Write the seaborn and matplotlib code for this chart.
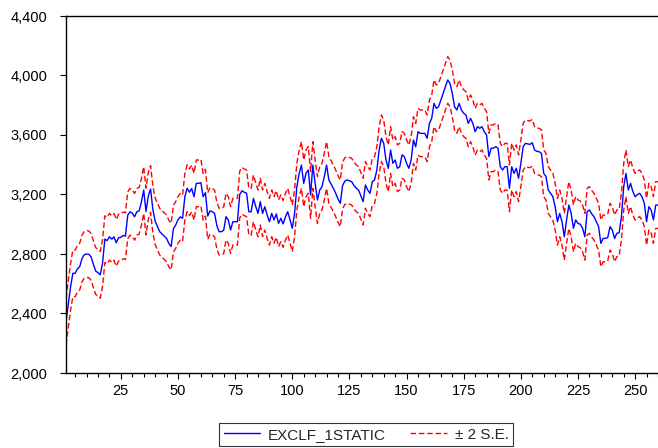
import numpy as np
import pandas as pd
import seaborn as sns
import matplotlib
matplotlib.use("Agg")
import matplotlib.pyplot as plt
from matplotlib.ticker import MultipleLocator, FuncFormatter

# Static forecast of EXCLF_1, observations 1..260
forecast = [
    2345, 2460, 2580, 2670, 2670, 2700, 2715, 2770, 2795, 2800,
    2798, 2780, 2730, 2685, 2675, 2660, 2740, 2900, 2890, 2916,
    2900, 2915, 2875, 2910, 2912, 2925, 2920, 3060, 3084, 3075,
    3050, 3084, 3090, 3150, 3230, 3085, 3190, 3237, 3100, 3020,
    2985, 2950, 2935, 2920, 2905, 2870, 2850, 2970, 2995, 3030,
    3050, 3040, 3185, 3242, 3215, 3240, 3185, 3275, 3275, 3280,
    3185, 3212, 3055, 3090, 3084, 3073, 2990, 2950, 2950, 2960,
    3051, 3029, 2961, 3017, 3017, 3017, 3200, 3225, 3215, 3208,
    3084, 3084, 3174, 3120, 3073, 3152, 3073, 3118, 3062, 3017,
    3073, 3029, 3069, 3006, 3040, 3002, 3050, 3084, 3030, 2973,
    3073, 3253, 3340, 3398, 3275, 3342, 3365, 3197, 3398, 3275,
    3163, 3230, 3253, 3320, 3398, 3298, 3270, 3240, 3208, 3170,
    3141, 3260, 3290, 3298, 3292, 3286, 3260, 3242, 3230, 3190,
    3152, 3264, 3230, 3208, 3286, 3298, 3365, 3499, 3578, 3544,
    3432, 3376, 3499, 3410, 3432, 3376, 3387, 3466, 3455, 3410,
    3376, 3432, 3566, 3521, 3622, 3611, 3611, 3611, 3578, 3678,
    3712, 3813, 3779, 3790, 3835, 3880, 3925, 3970, 3947, 3880,
    3790, 3768, 3813, 3768, 3746, 3734, 3678, 3712, 3678, 3622,
    3656, 3645, 3656, 3622, 3600, 3455, 3511, 3511, 3522, 3511,
    3387, 3365, 3387, 3387, 3242, 3387, 3342, 3376, 3309, 3410,
    3521, 3544, 3540, 3537, 3548, 3499, 3490, 3488, 3477, 3342,
    3320, 3230, 3208, 3185, 3118, 3017, 3073, 3017, 2916, 3029,
    3129, 3073, 2973, 3029, 3006, 3000, 2973, 2916, 3084, 3096,
    3070, 3051, 3017, 2984, 2872, 2905, 2905, 2910, 2984, 2961,
    2905, 2939, 2943, 3051, 3253, 3342, 3230, 3275, 3219, 3185,
    3200, 3208, 3185, 3141, 3017, 3118, 3096, 3029, 3129, 3129,
]
two_se = 157  # width of the +/- 2 S.E. band

obs = np.arange(1, len(forecast) + 1)
y_ticks = [2000, 2400, 2800, 3200, 3600, 4000, 4400]
x_ticks = [25, 50, 75, 100, 125, 150, 175, 200, 225, 250]

df = pd.DataFrame({"obs": obs, "forecast": forecast})
df["upper"] = df["forecast"] + two_se
df["lower"] = df["forecast"] - two_se

sns.set_style("white")
plt.rcParams["font.family"] = ["Liberation Sans", "DejaVu Sans"]

fig = plt.figure(figsize=(6.58, 4.48), dpi=100)
ax = fig.add_axes([66 / 658, 1 - 373 / 448, 1 - 66 / 658, (373 - 16) / 448])

sns.lineplot(data=df, x="obs", y="forecast", ax=ax, color="#0000ff",
             linewidth=1.0, label="EXCLF_1STATIC")
sns.lineplot(data=df, x="obs", y="upper", ax=ax, color="#ff0000",
             linewidth=1.0, linestyle=(0, (4, 2)), label="\u00b1 2 S.E.")
sns.lineplot(data=df, x="obs", y="lower", ax=ax, color="#ff0000",
             linewidth=1.0, linestyle=(0, (4, 2)))

ax.set_xlim(1, 260)
ax.set_ylim(2000, 4400)
ax.set_yticks(y_ticks)
ax.yaxis.set_major_formatter(FuncFormatter(lambda v, p: f"{int(v):,}"))
ax.set_xticks(x_ticks)
ax.xaxis.set_minor_locator(MultipleLocator(5))
ax.set_xlabel("")
ax.set_ylabel("")

for side in ("left", "top", "bottom"):
    ax.spines[side].set_visible(True)
    ax.spines[side].set_color("black")
    ax.spines[side].set_linewidth(1.0)
ax.spines["right"].set_visible(False)

ax.tick_params(axis="both", which="major", direction="out", length=4.5, width=0.8,
               color="black", labelsize=10.5, labelcolor="black")
ax.tick_params(axis="y", which="major", left=True, pad=9)
ax.tick_params(axis="x", which="major", bottom=True, pad=3.5)
ax.tick_params(axis="x", which="minor", direction="out", length=3, width=0.8,
               color="black", bottom=True)

handles, labels = ax.get_legend_handles_labels()
ax.legend_.remove()
leg = fig.legend(handles[:2], labels[:2], loc="upper center",
                 bbox_to_anchor=(366 / 658, 1 - 423 / 448), ncol=2,
                 frameon=True, fancybox=False, fontsize=11,
                 handlelength=2.4, columnspacing=1.6, borderpad=0.3,
                 borderaxespad=0, handletextpad=0.5)
leg.get_frame().set_edgecolor("black")
leg.get_frame().set_linewidth(0.8)

fig.savefig("out.png", dpi=100)
